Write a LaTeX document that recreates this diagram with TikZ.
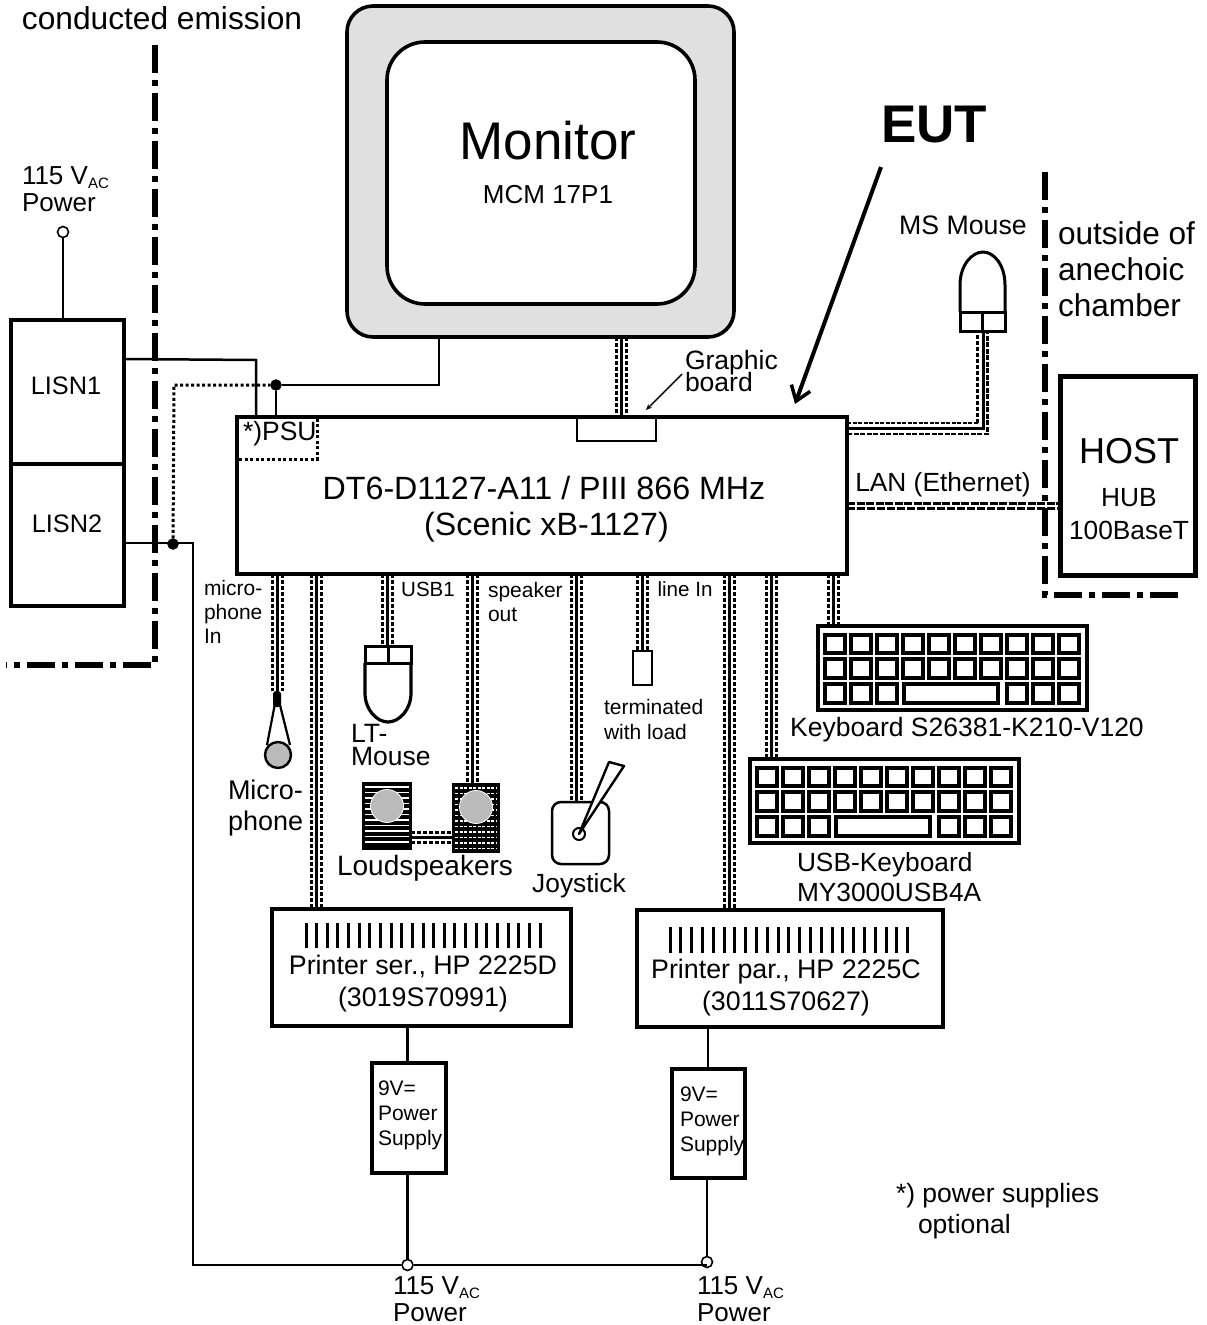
\documentclass[tikz,border=0pt]{standalone}
\usepackage{fontspec}
\setmainfont{Liberation Sans}
\usetikzlibrary{arrows.meta}
\newcommand\fs[2]{\fontsize{#1}{#2}\selectfont\lineskiplimit=-100pt\relax}
\newcommand\acsub{\raisebox{-4pt}{\fontsize{15}{15}\selectfont AC}}
\newcommand\boxnode[6]{% name x1 y1 x2 y2 style
  \pgfmathsetmacro\bcx{(#2+#4)/2}\pgfmathsetmacro\bcy{(#3+#5)/2}
  \pgfmathsetmacro\bw{#4-#2}\pgfmathsetmacro\bh{#5-#3}
  \node[boxstyle,minimum width=\bw pt,minimum height=\bh pt,#6] (#1) at (\bcx,\bcy) {};}
\newcommand\cableV[2]{%
  \draw[cablecore] (#1) -- (#2);
  \draw[cabledash,transform canvas={xshift=-4.8pt}] (#1) -- (#2);
  \draw[cabledash,transform canvas={xshift=5.2pt}] (#1) -- (#2);}
\newcommand\keyboard[3]{% name, dx, dy
  \begin{scope}[shift={(#2,#3)}]
  \boxnode{#1}{818}{626}{1087}{710}{line width=3.5pt}
  \foreach \c in {0,...,9}{
    \foreach \r/\a/\b in {0/635/653,1/659/678}{
      \draw[keystyle] ({825+\c*26},\a) rectangle ({845+\c*26},\b);}}
  \foreach \c in {0,1,2,7,8,9}{
    \draw[keystyle] ({825+\c*26},684) rectangle ({845+\c*26},703);}
  \draw[keystyle] (904,684) rectangle (998,703);
  \end{scope}}
\tikzset{
  boxstyle/.style={draw=black,fill=white,inner sep=0pt,outer sep=0pt,line width=3.5pt},
  cablecore/.style={line width=3pt,black},
  cabledash/.style={line width=3pt,black,dash pattern=on 4pt off 2pt},
  keystyle/.style={line width=3.8pt,draw=black},
  wire/.style={line width=2.5pt,black},
  dots/.style={line width=3pt,black,dash pattern=on 3pt off 2.5pt},
  chamber/.style={line width=6pt,black,dash pattern=on 28pt off 7pt on 6pt off 7pt},
  txt/.style={inner sep=0pt,outer sep=0pt,black},
  jct/.style={circle,fill=black,draw=black,inner sep=0pt,minimum size=11pt},
  term/.style={circle,fill=white,draw=black,line width=1.6pt,inner sep=0pt,minimum size=11pt},
}
\begin{document}
\begin{tikzpicture}[x=1pt,y=-1pt]
\useasboundingbox (0,0) rectangle (1207,1325);
% chamber lines
\coordinate (ca) at (155,45); \coordinate (cb) at (155,665); \coordinate (cc) at (6,665);
\draw[chamber] (ca) -- (cb) -- (cc);
\coordinate (cd) at (1045,172); \coordinate (ce) at (1045,595); \coordinate (cf) at (1180,595);
\draw[chamber] (cd) -- (ce) -- (cf);
% monitor
\boxnode{monitor}{347}{6}{734}{337}{fill=black!12,rounded corners=26pt,line width=3.6pt}
\boxnode{screen}{387}{42}{695}{304}{rounded corners=38pt,line width=3.6pt}
\node[txt,font=\fs{53}{53}] (montxt) at (548,141) {Monitor};
\node[txt,font=\fs{26}{26}] (monsub) at (548,195) {MCM 17P1};
% PC
\boxnode{pc}{237}{417}{847}{574}{line width=4pt}
\node[txt,font=\fs{32.2}{36},align=center] (pctxt) at (544,509) {DT6-D1127-A11 / PIII 866 MHz\\\hspace*{5pt}(Scenic xB-1127)};
\node[txt,anchor=west,font=\fs{26.5}{26.5}] (psutxt) at (243,434) {*)PSU};
\coordinate (psua) at (239,459); \coordinate (psub) at (317,459); \coordinate (psuc) at (317,419);
\draw[dots] (psua) -- (psub) -- (psuc);
\boxnode{gboard}{577}{417}{656}{441}{line width=2.4pt}
\draw[black,line width=3.5pt] (pc.north west) -- (pc.north east);
\node[txt,anchor=west,font=\fs{26.5}{21.5},align=left] (gbtxt) at (685,371) {Graphic\\board};
\coordinate (gbl) at (682,374); \coordinate (gbm) at (646,410);
\draw[line width=1.4pt,-{Stealth[length=6pt,width=5pt]}] (gbl) -- (gbm);
% monitor cable
\coordinate (mc) at (621.5,337);
\cableV{mc}{mc |- pc.north}
% LISN
\boxnode{lisnA}{11}{320}{124}{464}{}
\boxnode{lisnB}{11}{464}{124}{606}{}
\node[txt,font=\fs{25.3}{25}] (lisnAt) at (66,386) {LISN1};
\node[txt,font=\fs{25.3}{25}] (lisnBt) at (67,524) {LISN2};
\node[txt,font=\fs{26}{27},align=left,anchor=west] (pwrA) at (22,189) {115 V\acsub\\Power};
\node[term] (tA) at (63,232) {};
\draw[wire] (tA) -- (tA |- lisnA.north);
% mains wiring
\coordinate (wA) at (124,359); \coordinate (wB) at (256,360);
\draw[wire] (wA) -- (wB) -- (wB |- pc.north);
\node[jct] (jA) at (276,385) {};
\coordinate (mb) at (439,385);
\draw[wire] (jA) -- (mb) -- (mb |- monitor.south);
\draw[wire] (jA) -- (jA |- pc.north);
\node[jct] (jB) at (173,544) {};
\coordinate (dC) at (174,385);
\draw[dots] (jB) -- (dC) -- (jA);
\coordinate (wC) at (124,543); \coordinate (wD) at (193,543); \coordinate (wE) at (193,1265);
\node[term] (tB) at (407.5,1265) {};
\node[term] (tC) at (707,1262) {};
\coordinate (wF) at (707,1265);
\draw[wire] (wC) -- (wD) -- (wE) -- (tB) -- (wF);
% cables from PC
\coordinate (cMic) at (277,691);
\coordinate (cPs) at (316.5,909);
\coordinate (cUsb) at (387,646);
\coordinate (cSpk) at (472,784);
\coordinate (cJoy) at (576.5,802);
\coordinate (cLin) at (642,650);
\coordinate (cPp) at (729,909);
\coordinate (cUk) at (771,759);
\coordinate (cKb) at (833,626);
\foreach \e in {cMic,cPs,cUsb,cSpk,cJoy,cLin,cPp,cUk,cKb}{\cableV{pc.south -| \e}{\e}}
% MS mouse cable
\coordinate (ma) at (847,428); \coordinate (mt) at (983,331); \coordinate (mk) at (983,428);
\draw[cablecore] (ma) -- (mk) -- (mt);
\coordinate (mb1) at (847,423); \coordinate (mb2) at (977.5,423); \coordinate (mb3) at (977.5,331);
\draw[line width=2pt,dash pattern=on 4pt off 1.5pt] (mb1) -- (mb2);
\draw[cabledash] (mb2) -- (mb3);
\coordinate (mc1) at (847,434); \coordinate (mc2) at (987.5,434); \coordinate (mc3) at (987.5,331);
\draw[line width=2.6pt,dash pattern=on 5pt off 1.5pt] (mc1) -- (mc2) -- (mc3);
% MS mouse
\draw[line width=3pt] (960,312) -- (960,285) .. controls (960,265) and (972,252) .. (983,252) .. controls (994,252) and (1005,265) .. (1005,285) -- (1005,312);
\boxnode{msm}{960}{312}{1005}{331}{line width=3pt}
\draw[line width=3pt] (msm.north) -- (msm.south);
\node[txt,font=\fs{26.7}{25}] (mstxt) at (963,225) {MS Mouse};
% LAN
\boxnode{host}{1060}{376}{1195}{575}{line width=5pt}
\coordinate (la) at (847,503.5); \coordinate (lb) at (847,508.5);
\draw[line width=3.6pt,dash pattern=on 8pt off 1.5pt] (la) -- (la -| host.west);
\draw[line width=2.2pt,dash pattern=on 8pt off 2pt] (lb) -- (lb -| host.west);
\node[txt,font=\fs{26.3}{26}] (lantxt) at (943,485) {LAN (Ethernet)};
\node[txt,font=\fs{36}{36}] (hosttxt) at (1129,451) {HOST};
\node[txt,font=\fs{26.3}{33},align=center] (hubtxt) at (1129,514) {HUB\\100BaseT};
\node[txt,anchor=west,font=\fs{31.6}{36},align=left] (outtxt) at (1058,269) {outside of\\anechoic\\chamber};
\node[txt,font=\fs{31.7}{32}] (conducted) at (162,18) {conducted emission};
% EUT
\node[txt,font=\bfseries\fs{53}{53}] (eut) at (934,125) {EUT};
\coordinate (ea) at (881,167); \coordinate (eb) at (795,404);
\draw[line width=4pt,-{Straight Barb[length=14pt,width=20pt,line width=3.5pt]}] (ea) -- (eb);
% small labels
\node[txt,anchor=west,font=\fs{21}{24},align=left] (mitxt) at (204,612) {micro-\\phone\\In};
\node[txt,font=\fs{20.5}{20}] (usbtxt) at (428,589) {USB1};
\node[txt,anchor=west,font=\fs{21}{24},align=left] (spktxt) at (488,602) {speaker\\out};
\node[txt,font=\fs{20.6}{20}] (lintxt) at (685,589) {line In};
\node[txt,anchor=west,font=\fs{21}{25},align=left] (termtxt) at (604,719) {terminated\\with load};
\boxnode{termbox}{633}{651}{652}{685}{line width=1.6pt}
% microphone
\coordinate (mca) at (277,693);
\node[circle,draw=black,fill=black!27,line width=2.4pt,minimum size=26pt,inner sep=0pt] (micball) at (278,755) {};
\draw[line width=2.2pt] (mca) -- (267,745);
\draw[line width=2.2pt] (mca) -- (290,745);
\fill[rounded corners=3pt] (273,691) rectangle (281,707);
\node[txt,anchor=west,font=\fs{27}{31},align=left] (mictxt) at (228,808) {Micro-\\phone};
% LT mouse
\draw[line width=3.2pt] (365,663) -- (365,693) .. controls (365,710) and (377,722) .. (388,722) .. controls (399,722) and (411,710) .. (411,693) -- (411,663);
\boxnode{ltm}{365}{646}{411}{663}{line width=3pt}
\draw[line width=3pt] (ltm.north) -- (ltm.south);
\node[txt,anchor=west,font=\fs{26.5}{23},align=left] (ltt) at (351,745) {LT-\\Mouse};
% speakers
\boxnode{spkA}{363}{783}{411}{849}{fill=black,line width=2.5pt}
\boxnode{spkB}{453}{784}{499}{852}{fill=black,line width=2.5pt}
\foreach \y in {787,792.5,...,846}{\draw[white,line width=1.3pt] (365,\y) -- (409,\y);}
\foreach \y in {788,793.5,...,849}{\draw[white,line width=1.3pt,dash pattern=on 3pt off 1.5pt] (455,\y) -- (497,\y);}
\node[circle,fill=black!27,draw=white,line width=.8pt,minimum size=33pt,inner sep=0pt] (spkAc) at (387,806) {};
\node[circle,fill=black!27,draw=white,line width=.8pt,minimum size=33pt,inner sep=0pt] (spkBc) at (476,807) {};
\coordinate (sl) at (411,837); 
\draw[cablecore] (sl) -- (sl -| spkB.west);
\draw[cabledash,transform canvas={yshift=-5pt}] (sl) -- (sl -| spkB.west);
\draw[cabledash,transform canvas={yshift=5pt}] (sl) -- (sl -| spkB.west);
\node[txt,font=\fs{28}{28}] (louds) at (425,868) {Loudspeakers};
% joystick
\boxnode{joy}{552}{802}{609}{864}{rounded corners=9pt,line width=2.5pt}
\node[circle,draw=black,fill=white,line width=2pt,minimum size=12pt,inner sep=0pt] (joyb) at (579,834) {};
\coordinate (jh1) at (609,762); \coordinate (jh2) at (624,766);
\draw[line width=2.4pt,fill=white,line join=round] (joyb.center) -- (jh1) -- (jh2) -- cycle;
\node[txt,font=\fs{26.3}{26}] (joytxt) at (579,886) {Joystick};
% keyboards
\keyboard{kbA}{0}{0}
\keyboard{kbB}{-68}{133}
\node[txt,font=\fs{26.5}{26}] (kbAt) at (967,730) {Keyboard S26381-K210-V120};
\node[txt,anchor=west,font=\fs{26.3}{30},align=left] (kbBt) at (797,877) {USB-Keyboard\\MY3000USB4A};
% printers
\boxnode{prA}{272}{909}{571}{1026}{}
\boxnode{prB}{637}{910}{943}{1027}{}
\foreach \i in {0,...,22}{\draw[line width=3pt] ({306+\i*10.64},923) -- ({306+\i*10.64},948);}
\foreach \i in {0,...,22}{\draw[line width=3pt] ({670+\i*10.8},927) -- ({670+\i*10.8},953);}
\node[txt,font=\fs{26.8}{32},align=center] (prAt) at (423,984) {Printer ser., HP 2225D\\(3019S70991)};
\node[txt,font=\fs{26.8}{32},align=center] (prBt) at (786,988) {Printer par., HP 2225C\\(3011S70627)};
% PSUs
\boxnode{psA}{372}{1063}{446}{1173}{}
\boxnode{psB}{672}{1069}{745}{1178}{}
\node[txt,anchor=west,font=\fs{21}{25},align=left] (psAt) at (378,1115) {9V=\\Power\\Supply};
\node[txt,anchor=west,font=\fs{21}{25},align=left] (psBt) at (680,1121) {9V=\\Power\\Supply};
\coordinate (pA) at (407.5,1026);
\draw[wire] (pA) -- (pA |- psA.north);
\coordinate (pB) at (708,1027);
\draw[line width=2.8pt] (pB) -- (pB |- psB.north);
\draw[line width=2.8pt] (tB |- psA.south) -- (tB);
\draw[line width=2.8pt] (tC |- psB.south) -- (tC);
\node[txt,anchor=west,font=\fs{26}{27},align=left] (pwrB) at (393,1299.5) {115 V\acsub\\Power};
\node[txt,anchor=west,font=\fs{26}{27},align=left] (pwrC) at (697,1299.5) {115 V\acsub\\Power};
\node[txt,anchor=west,font=\fs{26.5}{31},align=left] (note) at (896,1211) {*) power supplies\\\hspace*{22pt}optional};
\end{tikzpicture}
\end{document}
